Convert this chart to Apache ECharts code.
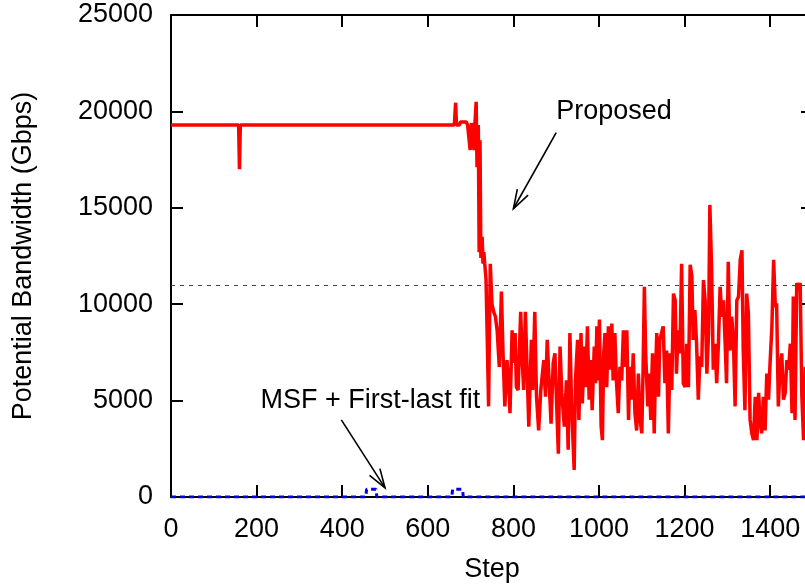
<!DOCTYPE html>
<html><head><meta charset="utf-8">
<script src="https://cdn.jsdelivr.net/npm/echarts@6/dist/echarts.min.js"></script>
<style>html,body{margin:0;padding:0;background:#fff}#c{width:805px;height:584px}</style>
</head><body><div id="c"></div>
<script>
// ---- data ----
const proposedStep = [0,158,160,162,662,665,667,674,676,690,693,697,699,702,705,708,710,713,715,718,720,722,724,727,729,731,733,736,739,742,746,750,754,758,762,767,772,776,780,785,789,792,797,801,804,807,811,817,821,824,828,832,836,842,845,850,854,859,864,871,875,879,883,888,893,897,905,909,913,919,924,928,932,936,942,945,950,953,958,961,966,969,973,977,981,984,989,992,995,998,1001,1005,1008,1011,1014,1018,1022,1026,1030,1033,1037,1041,1045,1049,1053,1057,1061,1065,1069,1072,1076,1080,1084,1088,1092,1096,1100,1103,1106,1109,1114,1117,1121,1125,1129,1131,1135,1139,1142,1146,1150,1154,1158,1162,1166,1170,1174,1178,1181,1185,1189,1193,1197,1201,1205,1209,1213,1217,1220,1224,1228,1232,1236,1240,1244,1248,1252,1256,1259,1263,1267,1271,1275,1279,1283,1287,1291,1295,1298,1302,1306,1310,1314,1318,1322,1326,1330,1334,1337,1341,1345,1349,1353,1357,1361,1365,1369,1373,1376,1380,1384,1388,1392,1396,1400,1404,1408,1412,1415,1419,1423,1427,1431,1435,1439,1443,1447,1451,1454,1458,1462,1466,1470,1474,1478,1482,1486,1490,1494,1498,1500];
const proposedBw = [19300,19300,17000,19300,19300,20450,19300,19300,19450,19450,19300,19300,18000,19400,19300,18000,19300,20500,17100,19300,12700,18500,12400,13500,12100,12700,12100,11300,8100,4700,12100,10000,9600,9350,8650,6750,10650,7300,4700,7100,5800,4350,8650,6950,8500,5700,5550,9600,6950,5550,9600,6600,3650,8150,5550,9600,5200,3450,5550,7100,5200,8150,6250,3800,6950,7450,2250,7800,5400,3650,6050,2450,8500,4700,1400,6050,8150,4000,8500,4850,7800,5700,8850,5050,7100,4500,7800,5900,8850,6050,9200,3650,2950,7450,8500,5700,8850,6600,9000,6050,8500,5900,4350,6750,6050,8650,6750,8650,4000,6750,5050,7450,4350,3450,6400,4000,3300,6600,10900,7450,4700,6400,4000,7450,3300,5550,8500,5200,8150,8500,8850,5900,7600,3300,7450,5550,10550,10200,6400,8650,7450,12100,5900,5700,7950,5700,12050,11450,8150,9700,7950,5050,7300,6750,11250,10200,6400,8500,15150,11950,6600,7950,5900,7950,10900,9350,10200,7800,5900,12200,7600,9350,8150,4700,10200,10400,12300,12800,7600,4500,10550,9550,4000,3300,2950,5200,2950,5400,4000,3300,5200,3450,6400,5050,7100,8850,12300,9850,10050,4700,6750,7450,5050,5400,7100,6600,7950,4350,10400,4000,11100,10750,11100,5200,2950,6750,5500,7800,4600,6900,6000];
const msfStep = [0,455,457,479,481,656,658,681,683,1500];
const msfBw   = [0,0,400,400,0,0,400,400,0,0];
const referenceBw = 11000;
const annotations = [
  {text:'Proposed', at:[900,20000], align:'left', from:[900,18900], to:[800,14950]},
  {text:'MSF + First-last fit', at:[466,5000], align:'center', from:[398,4000], to:[500,470]}
];
// --------------------------------------
const FONT = '"Liberation Sans", Arial, Helvetica, sans-serif';
const FS = 27;
const chart = echarts.init(document.getElementById('c'), null, {renderer:'canvas'});
const axisLine = () => ({show:true, onZero:false, lineStyle:{color:'#000', width:2}});
const tick = () => ({show:true, inside:true, length:12, lineStyle:{color:'#000', width:2}});
const plain = v => String(v);
const option = {
  animation:false,
  backgroundColor:'#fff',
  grid:{left:171, top:15, width:642, height:482, containLabel:false, outerBoundsMode:'none'},
  xAxis:[
    {type:'value', min:0, max:1500, interval:200, position:'bottom',
     name:'Step', nameLocation:'middle', nameGap:59,
     nameTextStyle:{fontSize:FS, fontFamily:FONT, color:'#000'},
     axisLine:axisLine(), axisTick:tick(), splitLine:{show:false},
     axisLabel:{fontSize:FS, fontFamily:FONT, color:'#000', margin:19, showMaxLabel:false, formatter:plain}},
    {type:'value', min:0, max:1500, interval:200, position:'top',
     axisLine:axisLine(), axisTick:tick(), splitLine:{show:false}, axisLabel:{show:false}}
  ],
  yAxis:[
    {type:'value', min:0, max:25000, interval:5000, position:'left',
     name:'Potential Bandwidth (Gbps)', nameLocation:'middle', nameGap:134,
     nameTextStyle:{fontSize:FS, fontFamily:FONT, color:'#000'},
     axisLine:axisLine(), axisTick:tick(), splitLine:{show:false},
     axisLabel:{fontSize:FS, fontFamily:FONT, color:'#000', margin:18, formatter:plain}},
    {type:'value', min:0, max:25000, interval:5000, position:'right',
     axisLine:axisLine(), axisTick:tick(), splitLine:{show:false}, axisLabel:{show:false}}
  ],
  series:[
    {name:'MSF + First-last fit', type:'line', xAxisIndex:0, yAxisIndex:0,
     data: msfStep.map((s,i)=>[s, msfBw[i]]), showSymbol:false, symbol:'none',
     lineStyle:{color:'#0000ee', width:3, type:[5,4]}, z:3},
    {name:'Proposed', type:'line', xAxisIndex:0, yAxisIndex:0,
     data: proposedStep.map((s,i)=>[s, proposedBw[i]]), showSymbol:false, symbol:'none',
     lineStyle:{color:'#ff0000', width:3.5}, z:4,
     markLine:{silent:true, symbol:['none','none'], label:{show:false},
       lineStyle:{color:'#444', width:1, type:[4,5]},
       data:[{yAxis:referenceBw}]}}
  ]
};
chart.setOption(option);
const g = [];
annotations.forEach(a=>{
  const t = chart.convertToPixel({gridIndex:0}, a.at);
  g.push({type:'text', x:t[0], y:t[1], z:10,
    style:{text:a.text, fontSize:FS, fontFamily:FONT, fill:'#000', align:a.align, verticalAlign:'middle'}});
  const p0 = chart.convertToPixel({gridIndex:0}, a.from);
  const p1 = chart.convertToPixel({gridIndex:0}, a.to);
  const ang = Math.atan2(p1[1]-p0[1], p1[0]-p0[0]);
  const L = 20, h = 18*Math.PI/180;
  const w1 = [p1[0]-L*Math.cos(ang-h), p1[1]-L*Math.sin(ang-h)];
  const w2 = [p1[0]-L*Math.cos(ang+h), p1[1]-L*Math.sin(ang+h)];
  g.push({type:'line', z:10, shape:{x1:p0[0],y1:p0[1],x2:p1[0],y2:p1[1]}, style:{stroke:'#000', lineWidth:1.6}});
  g.push({type:'polyline', z:10, shape:{points:[w1,p1,w2]}, style:{stroke:'#000', lineWidth:1.6, fill:null}});
});
chart.setOption({graphic:g});
</script></body></html>
